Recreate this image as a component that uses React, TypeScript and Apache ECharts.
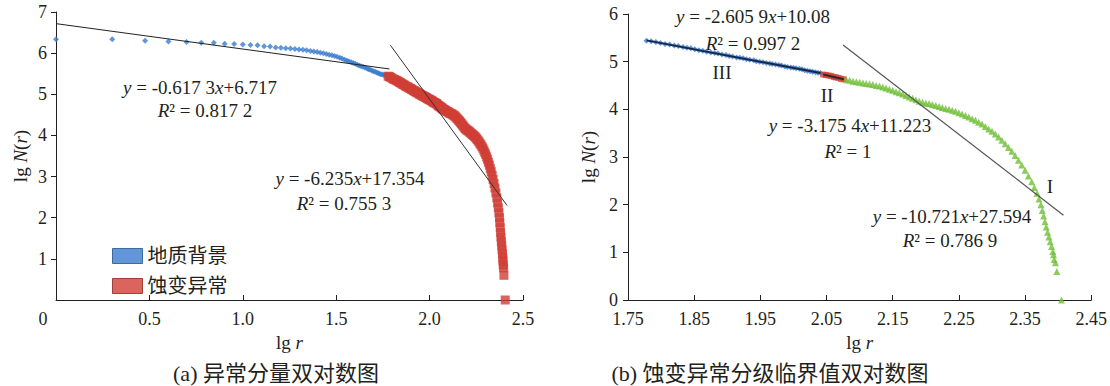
import React, { useEffect, useRef } from 'react';
import * as echarts from 'echarts';

// ---------- data ----------
const legendNames = ['地质背景', '蚀变异常'];

// (a) background points (lg r, lg N(r))
const bgPoints: number[][] = [
  [0, 6.34], [0.301, 6.34], [0.477, 6.30], [0.602, 6.28], [0.699, 6.27], [0.778, 6.25],
  [0.845, 6.25], [0.903, 6.23], [0.954, 6.22], [1.0, 6.21], [1.041, 6.2], [1.079, 6.19],
  [1.114, 6.17], [1.146, 6.16], [1.176, 6.14], [1.204, 6.13], [1.23, 6.12], [1.255, 6.11],
  [1.279, 6.1], [1.301, 6.09], [1.322, 6.08], [1.342, 6.07], [1.362, 6.05], [1.38, 6.04],
  [1.398, 6.03], [1.415, 6.01], [1.431, 6.0], [1.447, 5.98], [1.462, 5.96], [1.477, 5.95],
  [1.491, 5.93], [1.505, 5.91], [1.519, 5.89], [1.531, 5.87], [1.544, 5.84], [1.556, 5.82],
  [1.568, 5.8], [1.58, 5.78], [1.591, 5.76], [1.602, 5.74], [1.613, 5.72], [1.623, 5.7],
  [1.633, 5.68], [1.643, 5.67], [1.653, 5.65], [1.663, 5.63], [1.672, 5.61], [1.681, 5.6],
  [1.69, 5.58], [1.699, 5.56], [1.708, 5.55], [1.716, 5.53], [1.724, 5.52], [1.732, 5.5],
  [1.74, 5.49], [1.748, 5.48], [1.756, 5.47], [1.763, 5.46], [1.771, 5.45],
];

// alteration anomaly points, split into the three grades of (b)
const stageIII: number[][] = [
  [1.778, 5.44], [1.785, 5.43], [1.792, 5.41], [1.799, 5.39], [1.806, 5.37], [1.813, 5.36],
  [1.82, 5.34], [1.826, 5.33], [1.833, 5.31], [1.839, 5.29], [1.845, 5.28], [1.851, 5.26],
  [1.857, 5.24], [1.863, 5.23], [1.869, 5.21], [1.875, 5.19], [1.881, 5.18], [1.886, 5.17],
  [1.892, 5.15], [1.898, 5.14], [1.903, 5.12], [1.908, 5.11], [1.914, 5.09], [1.919, 5.08],
  [1.924, 5.07], [1.929, 5.05], [1.934, 5.04], [1.94, 5.03], [1.944, 5.01], [1.949, 5.0],
  [1.954, 4.99], [1.959, 4.97], [1.964, 4.96], [1.968, 4.95], [1.973, 4.94], [1.978, 4.93],
  [1.982, 4.92], [1.987, 4.9], [1.991, 4.89], [1.996, 4.88], [2.0, 4.87], [2.004, 4.86],
  [2.009, 4.85], [2.013, 4.84], [2.017, 4.82], [2.021, 4.81], [2.025, 4.8], [2.029, 4.79],
  [2.033, 4.78], [2.037, 4.77], [2.041, 4.76],
];
const stageII: number[][] = [
  [2.045, 4.73], [2.049, 4.72], [2.053, 4.71], [2.057, 4.7], [2.061, 4.68], [2.064, 4.67],
  [2.068, 4.66], [2.072, 4.64], [2.076, 4.63],
];
const stageI: number[][] = [
  [2.08, 4.62], [2.085, 4.61], [2.09, 4.59], [2.095, 4.58], [2.1, 4.57], [2.105, 4.55],
  [2.11, 4.54], [2.115, 4.53], [2.12, 4.52], [2.125, 4.5], [2.13, 4.49], [2.135, 4.47],
  [2.14, 4.45], [2.145, 4.42], [2.15, 4.4], [2.155, 4.37], [2.16, 4.35], [2.165, 4.32],
  [2.17, 4.29], [2.175, 4.26], [2.18, 4.23], [2.185, 4.2], [2.19, 4.17], [2.195, 4.15],
  [2.2, 4.13], [2.205, 4.12], [2.21, 4.1], [2.215, 4.08], [2.22, 4.06], [2.225, 4.04],
  [2.23, 4.02], [2.235, 4.0], [2.24, 3.98], [2.245, 3.96], [2.25, 3.93], [2.255, 3.9],
  [2.26, 3.87], [2.265, 3.84], [2.27, 3.8], [2.275, 3.77], [2.28, 3.73], [2.285, 3.69],
  [2.29, 3.64], [2.295, 3.59], [2.3, 3.54], [2.305, 3.48], [2.31, 3.42], [2.315, 3.35],
  [2.32, 3.28], [2.325, 3.2], [2.33, 3.12], [2.335, 3.03], [2.34, 2.93], [2.345, 2.83],
  [2.35, 2.72], [2.355, 2.6], [2.36, 2.48], [2.364, 2.36], [2.368, 2.24], [2.371, 2.12],
  [2.374, 2.0], [2.376, 1.88], [2.378, 1.76], [2.38, 1.64], [2.382, 1.53], [2.384, 1.42],
  [2.386, 1.32], [2.388, 1.22], [2.39, 1.12], [2.392, 1.02], [2.393, 0.95], [2.394, 0.85],
  [2.396, 0.78], [2.398, 0.6], [2.405, 0],
];

// fitted trend lines (end points)
const fitA = [[0, 6.717], [1.785, 5.615]];
const fitB = [[1.79, 6.193], [2.415, 2.296]];
const fitIII = [[1.778, 5.447], [2.041, 4.761]];
const fitII = [[2.045, 4.729], [2.076, 4.631]];
const fitI = [[2.075, 5.348], [2.408, 1.78]];

// ticks
const xTicksA = [0, 0.5, 1, 1.5, 2, 2.5];
const yTicksA = [1, 2, 3, 4, 5, 6, 7];
const xTicksB = [1.75, 1.85, 1.95, 2.05, 2.15, 2.25, 2.35, 2.45];
const yTicksB = [0, 1, 2, 3, 4, 5, 6];

// texts
const eqTexts = [
  '{i|y} = -0.617 3{i|x}+6.717',
  '{i|R}² = 0.817 2',
  '{i|y} = -6.235{i|x}+17.354',
  '{i|R}² = 0.755 3',
  '{i|y} = -2.605 9{i|x}+10.08',
  '{i|R}² = 0.997 2',
  '{i|y} = -3.175 4{i|x}+11.223',
  '{i|R}² = 1',
  '{i|y} = -10.721{i|x}+27.594',
  '{i|R}² = 0.786 9',
];
const gradeLabels = ['III', 'II', 'I'];
const captions = ['(a) 异常分量双对数图', '(b) 蚀变异常分级临界值双对数图'];

// ---------- styles ----------
const SERIF = '"Liberation Serif", "Times New Roman", serif';
const CJK = '"Liberation Serif", "Noto Sans CJK SC", serif';
const INK = '#231f20';
const BLUE = '#3a7ccf';
const RED = '#d03e36';
const GREEN = '#6fbf36';
const TICK_FS = 18;
const ANN_FS = 19;

const txt = (text: string, x: number, y: number, fontSize = ANN_FS, font = SERIF) => ({
  type: 'text',
  x,
  y,
  silent: true,
  style: {
    text,
    x: 0,
    y: 0,
    fontSize,
    fontFamily: font,
    fill: INK,
    align: 'center',
    verticalAlign: 'middle',
    rich: { i: { fontStyle: 'italic', fontSize, fontFamily: SERIF, fill: INK } },
  },
});

const axisCommon = {
  axisLine: { show: true, lineStyle: { color: INK, width: 1 } },
  splitLine: { show: false },
};

export default function App() {
  const ref = useRef<HTMLDivElement>(null);
  useEffect(() => {
    if (!ref.current) return;
    const chart = echarts.init(ref.current, null, { renderer: 'svg' });
    const nameRich = { i: { fontStyle: 'italic', fontSize: 19, fontFamily: SERIF, color: INK } };
    const nameStyle = { fontSize: 19, fontFamily: SERIF, color: INK, rich: nameRich };
    const option: any = {
      animation: false,
      textStyle: { fontFamily: SERIF },
      grid: [
        { left: 56, right: 1110 - 523, top: 12, bottom: 86 },
        { left: 628, right: 1110 - 1092, top: 14, bottom: 86 },
      ],
      xAxis: [
        {
          gridIndex: 0, type: 'value', min: 0, max: 2.5, interval: 0.5,
          name: 'lg {i|r}', nameLocation: 'middle', nameGap: 22, nameTextStyle: nameStyle,
          ...axisCommon,
          axisTick: { show: true, inside: true, length: 5, lineStyle: { color: INK }, customValues: xTicksA },
          axisLabel: {
            customValues: xTicksA, fontSize: TICK_FS, color: INK, margin: 10,
            formatter: (v: number) => (v === 0 ? '' : v.toFixed(1)),
          },
        },
        {
          gridIndex: 1, type: 'value', min: 1.75, max: 2.45,
          name: 'lg {i|r}', nameLocation: 'middle', nameGap: 22, nameTextStyle: nameStyle,
          ...axisCommon,
          axisTick: { show: true, inside: true, length: 5, lineStyle: { color: INK }, customValues: xTicksB },
          axisLabel: {
            customValues: xTicksB, fontSize: TICK_FS, color: INK, margin: 10,
            formatter: (v: number) => v.toFixed(2),
          },
        },
      ],
      yAxis: [
        {
          gridIndex: 0, type: 'value', min: 0, max: 7, interval: 1,
          name: 'lg {i|N}({i|r})', nameLocation: 'middle', nameGap: 26, nameRotate: 90,
          nameTextStyle: nameStyle,
          ...axisCommon,
          axisTick: { show: true, inside: false, length: 5, lineStyle: { color: INK }, customValues: yTicksA },
          axisLabel: { customValues: yTicksA, fontSize: TICK_FS, color: INK, margin: 9 },
        },
        {
          gridIndex: 1, type: 'value', min: 0, max: 6, interval: 1,
          name: 'lg {i|N}({i|r})', nameLocation: 'middle', nameGap: 30, nameRotate: 90,
          nameTextStyle: nameStyle,
          ...axisCommon,
          axisTick: { show: true, inside: false, length: 5, lineStyle: { color: INK }, customValues: yTicksB },
          axisLabel: { customValues: yTicksB, fontSize: TICK_FS, color: INK, margin: 10 },
        },
      ],
      legend: {
        data: [
          { name: legendNames[0], itemStyle: { borderColor: '#24508a', borderWidth: 1 } },
          { name: legendNames[1], itemStyle: { borderColor: '#8a2420', borderWidth: 1 } },
        ],
        orient: 'vertical', left: 107, top: 241, itemWidth: 30, itemHeight: 15, itemGap: 10,
        icon: 'rect', selectedMode: false,
        textStyle: { fontFamily: CJK, fontSize: 20, color: INK },
      },
      series: [
        {
          name: legendNames[0], type: 'scatter', xAxisIndex: 0, yAxisIndex: 0,
          data: bgPoints, symbol: 'diamond', symbolSize: 6, itemStyle: { color: BLUE },
        },
        {
          name: legendNames[1], type: 'scatter', xAxisIndex: 0, yAxisIndex: 0,
          data: [...stageIII, ...stageII, ...stageI], symbol: 'rect', symbolSize: 9,
          itemStyle: { color: RED },
        },
        {
          name: 'fitA', type: 'line', xAxisIndex: 0, yAxisIndex: 0, data: fitA, symbol: 'none',
          lineStyle: { color: '#222', width: 1 }, z: 5, silent: true,
        },
        {
          name: 'fitB', type: 'line', xAxisIndex: 0, yAxisIndex: 0, data: fitB, symbol: 'none',
          lineStyle: { color: '#333', width: 1 }, z: 5, silent: true,
        },
        {
          name: 'III', type: 'scatter', xAxisIndex: 1, yAxisIndex: 1, data: stageIII,
          symbol: 'diamond', symbolSize: 6, itemStyle: { color: BLUE },
        },
        {
          name: 'II', type: 'scatter', xAxisIndex: 1, yAxisIndex: 1, data: stageII,
          symbol: 'rect', symbolSize: 6, itemStyle: { color: RED },
        },
        {
          name: 'I', type: 'scatter', xAxisIndex: 1, yAxisIndex: 1, data: stageI,
          symbol: 'triangle', symbolSize: 7, itemStyle: { color: GREEN },
        },
        {
          name: 'fitIII', type: 'line', xAxisIndex: 1, yAxisIndex: 1, data: fitIII, symbol: 'none',
          lineStyle: { color: '#17284a', width: 2 }, z: 5, silent: true,
        },
        {
          name: 'fitII', type: 'line', xAxisIndex: 1, yAxisIndex: 1, data: fitII, symbol: 'none',
          lineStyle: { color: '#2a2a2a', width: 2 }, z: 5, silent: true,
        },
        {
          name: 'fitI', type: 'line', xAxisIndex: 1, yAxisIndex: 1, data: fitI, symbol: 'none',
          lineStyle: { color: '#555', width: 1.2 }, z: 5, silent: true,
        },
      ],
      graphic: [
        txt('0', 43, 319, TICK_FS),
        txt(eqTexts[0], 200, 87),
        txt(eqTexts[1], 205, 110),
        txt(eqTexts[2], 350, 178),
        txt(eqTexts[3], 344, 203),
        txt(eqTexts[4], 753, 16),
        txt(eqTexts[5], 753, 43),
        txt(gradeLabels[0], 722, 72),
        txt(gradeLabels[1], 827, 95),
        txt(eqTexts[6], 850, 125),
        txt(eqTexts[7], 848, 151),
        txt(gradeLabels[2], 1050, 186),
        txt(eqTexts[8], 952, 216),
        txt(eqTexts[9], 950, 240),
        txt(captions[0], 276, 373, 22, CJK),
        txt(captions[1], 770, 373, 22, CJK),
      ],
    };
    chart.setOption(option);
    return () => chart.dispose();
  }, []);
  return (
    <div
      ref={ref}
      style={{ position: 'absolute', left: 0, top: 0, width: 1110, height: 386, background: '#fff' }}
    />
  );
}
